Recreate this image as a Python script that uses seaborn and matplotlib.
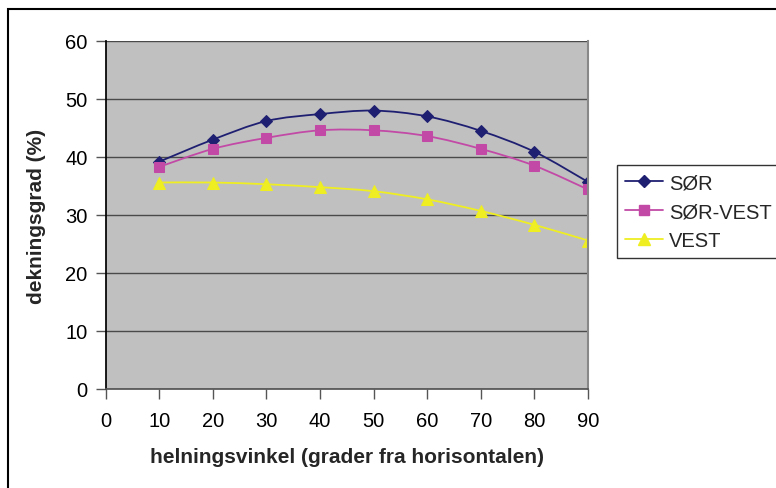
import numpy as np
import pandas as pd
import matplotlib
matplotlib.use("Agg")
import matplotlib.pyplot as plt
from matplotlib.path import Path
from matplotlib.patches import PathPatch, Rectangle
from matplotlib.lines import Line2D
import seaborn as sns

angles = [10, 20, 30, 40, 50, 60, 70, 80, 90]
sor = [39.2, 43.0, 46.2, 47.4, 48.0, 47.0, 44.5, 40.9, 35.7]
sor_vest = [38.3, 41.4, 43.3, 44.6, 44.6, 43.6, 41.4, 38.5, 34.4]
vest = [35.6, 35.6, 35.3, 34.8, 34.1, 32.7, 30.7, 28.3, 25.6]
series_names = ["SØR", "SØR-VEST", "VEST"]
colors = ["#1F1F72", "#C24AA6", "#EEEE22"]
markers = ["D", "s", "^"]
msizes = [6.5, 7, 8.5]

sns.set_theme(style="white")
plt.rcParams['font.family'] = ['Liberation Sans', 'DejaVu Sans']

fig = plt.figure(figsize=(7.76, 4.89), dpi=100)
ax = fig.add_axes([105.7/776, 1-390/489, (588-105.7)/776, (390-42)/489])
ax.set_facecolor("#C0C0C0")

# outer border (right and bottom edges fall outside the image)
fig.patches.append(Rectangle((8/776, -0.2), 1.2, 1.2-10/489, transform=fig.transFigure,
                             fill=False, edgecolor="black", linewidth=1.5))

def smooth_path(xs, ys):
    pts = np.column_stack([xs, ys]).astype(float)
    n = len(pts)
    verts = [pts[0]]
    codes = [Path.MOVETO]
    for i in range(n - 1):
        p0 = pts[i - 1] if i > 0 else pts[i]
        p1 = pts[i]
        p2 = pts[i + 1]
        p3 = pts[i + 2] if i + 2 < n else pts[i + 1]
        c1 = p1 + (p2 - p0) / 6.0
        c2 = p2 - (p3 - p1) / 6.0
        verts += [c1, c2, p2]
        codes += [Path.CURVE4] * 3
    return Path(verts, codes)

df = pd.DataFrame({"angle": angles * 3,
                   "value": sor + sor_vest + vest,
                   "series": sum([[s] * len(angles) for s in series_names], [])})

handles = []
for name, vals, c, m, ms in zip(series_names, [sor, sor_vest, vest], colors, markers, msizes):
    patch = PathPatch(smooth_path(angles, vals), facecolor="none", edgecolor=c,
                      linewidth=1.3, transform=ax.transData, zorder=3)
    ax.add_patch(patch)
    sub = df[df.series == name]
    sns.lineplot(data=sub, x="angle", y="value", ax=ax, color=c, marker=m,
                 markersize=ms, linewidth=0, markeredgecolor=c, legend=False, zorder=4)
    handles.append(Line2D([0], [0], color=c, marker=m, markersize=ms, linewidth=1.3,
                          markeredgecolor=c, label=name))

ax.set_xlim(0, 90)
ax.set_ylim(0, 60)
ax.set_xticks(range(0, 91, 10))
ax.set_yticks(range(0, 61, 10))
ax.yaxis.grid(True, color="#4a4a4a", linewidth=1)
ax.xaxis.grid(False)
ax.set_axisbelow(True)
ax.spines["top"].set_visible(False)
ax.spines["left"].set_color("black")
ax.spines["bottom"].set_color("#555555")
ax.spines["right"].set_color("#888888")
ax.spines["right"].set_linewidth(1.5)
for s in ax.spines.values():
    s.set_zorder(5)
ax.tick_params(axis="both", which="major", direction="out", length=7, width=1,
               colors="#555555", labelcolor="black", labelsize=14.5, left=True, bottom=True)
ax.tick_params(axis="x", pad=9)
ax.tick_params(axis="y", pad=6)
ax.set_xlabel("helningsvinkel (grader fra horisontalen)", fontsize=15, fontweight="bold", labelpad=12)
ax.set_ylabel("dekningsgrad (%)", fontsize=15, fontweight="bold", labelpad=14)

leg = fig.legend(handles=handles, loc="upper left", bbox_to_anchor=(617/776, 1-166/489),
                 frameon=True, fancybox=False, edgecolor="black", fontsize=14.5,
                 handlelength=1.9, handletextpad=0.3, borderpad=0.4, labelspacing=0.5,
                 borderaxespad=0)
leg.get_frame().set_linewidth(1)

fig.savefig("out.png", dpi=100)
